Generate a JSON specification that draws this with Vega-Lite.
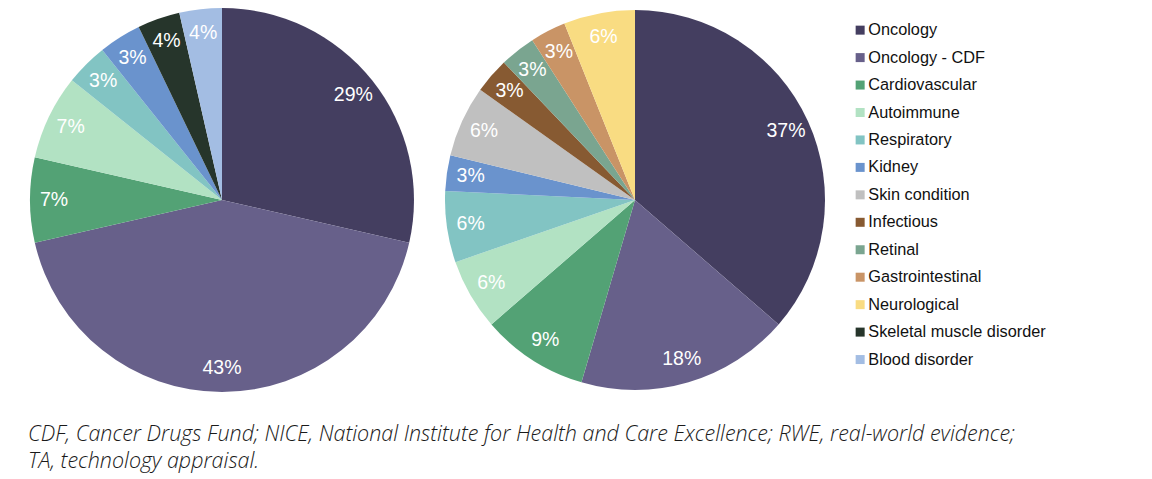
{
  "$schema": "https://vega.github.io/schema/vega-lite/v6.json",
  "background": "white",
  "padding": {"left": 28, "top": 8, "right": 0, "bottom": 0},
  "datasets": {
    "left": [
      {"category": "Oncology", "idx": 1, "count": 8, "label": "29%"},
      {"category": "Oncology - CDF", "idx": 2, "count": 12, "label": "43%"},
      {"category": "Cardiovascular", "idx": 3, "count": 2, "label": "7%"},
      {"category": "Autoimmune", "idx": 4, "count": 2, "label": "7%"},
      {"category": "Respiratory", "idx": 5, "count": 1, "label": "3%"},
      {"category": "Kidney", "idx": 6, "count": 1, "label": "3%"},
      {"category": "Skeletal muscle disorder", "idx": 12, "count": 1, "label": "4%"},
      {"category": "Blood disorder", "idx": 13, "count": 1, "label": "4%"}
    ],
    "right": [
      {"category": "Oncology", "idx": 1, "count": 12, "label": "37%"},
      {"category": "Oncology - CDF", "idx": 2, "count": 6, "label": "18%"},
      {"category": "Cardiovascular", "idx": 3, "count": 3, "label": "9%"},
      {"category": "Autoimmune", "idx": 4, "count": 2, "label": "6%"},
      {"category": "Respiratory", "idx": 5, "count": 2, "label": "6%"},
      {"category": "Kidney", "idx": 6, "count": 1, "label": "3%"},
      {"category": "Skin condition", "idx": 7, "count": 2, "label": "6%"},
      {"category": "Infectious", "idx": 8, "count": 1, "label": "3%"},
      {"category": "Retinal", "idx": 9, "count": 1, "label": "3%"},
      {"category": "Gastrointestinal", "idx": 10, "count": 1, "label": "3%"},
      {"category": "Neurological", "idx": 11, "count": 2, "label": "6%"}
    ]
  },
  "title": {
    "text": ["CDF, Cancer Drugs Fund; NICE, National Institute for Health and Care Excellence; RWE, real-world evidence;", "TA, technology appraisal."],
    "orient": "bottom",
    "anchor": "start",
    "font": "Open Sans",
    "fontStyle": "italic",
    "fontWeight": 300,
    "fontSize": 21.5,
    "lineHeight": 27,
    "color": "#1a1a1a",
    "offset": 32,
    "dx": -2
  },
  "spacing": 29,
  "hconcat": [
    {
      "width": 384,
      "height": 384,
      "data": {"name": "left"},
      "encoding": {
        "theta": {"field": "count", "type": "quantitative", "stack": true},
        "order": {"field": "idx", "type": "quantitative"},
        "color": {"field": "category", "type": "nominal", "scale": {"domain": ["Oncology", "Oncology - CDF", "Cardiovascular", "Autoimmune", "Respiratory", "Kidney", "Skin condition", "Infectious", "Retinal", "Gastrointestinal", "Neurological", "Skeletal muscle disorder", "Blood disorder"], "range": ["#443e60", "#67608a", "#53a275", "#b2e2c3", "#82c4c3", "#6a93cd", "#c0c0c0", "#875a32", "#7aa590", "#c99466", "#f9dc82", "#26352b", "#a3bde3"]}}
      },
      "layer": [
        {"mark": {"type": "arc", "outerRadius": 192}},
        {"mark": {"type": "text", "radius": 168, "font": "Liberation Sans", "fontSize": 19.5}, "encoding": {"text": {"field": "label"}, "color": {"value": "white"}}}
      ]
    },
    {
      "width": 384,
      "height": 384,
      "data": {"name": "right"},
      "encoding": {
        "theta": {"field": "count", "type": "quantitative", "stack": true},
        "order": {"field": "idx", "type": "quantitative"},
        "color": {"field": "category", "type": "nominal", "scale": {"domain": ["Oncology", "Oncology - CDF", "Cardiovascular", "Autoimmune", "Respiratory", "Kidney", "Skin condition", "Infectious", "Retinal", "Gastrointestinal", "Neurological", "Skeletal muscle disorder", "Blood disorder"], "range": ["#443e60", "#67608a", "#53a275", "#b2e2c3", "#82c4c3", "#6a93cd", "#c0c0c0", "#875a32", "#7aa590", "#c99466", "#f9dc82", "#26352b", "#a3bde3"]}}
      },
      "layer": [
        {"mark": {"type": "arc", "outerRadius": 190}},
        {"mark": {"type": "text", "radius": 166, "font": "Liberation Sans", "fontSize": 19.5}, "encoding": {"text": {"field": "label"}, "color": {"value": "white"}}}
      ]
    }
  ],
  "resolve": {"scale": {"color": "shared"}},
  "config": {
    "view": {"stroke": null},
    "legend": {
      "orient": "none",
      "legendX": 822,
      "legendY": 14,
      "title": null,
      "symbolType": "square",
      "symbolSize": 81,
      "symbolStrokeWidth": 0,
      "labelFont": "Liberation Sans",
      "labelFontSize": 16.3,
      "labelColor": "#111111",
      "labelOffset": 0,
      "rowPadding": 10.45,
      "labelLimit": 300
    }
  },
  "encoding": {},
  "transform": []
}
